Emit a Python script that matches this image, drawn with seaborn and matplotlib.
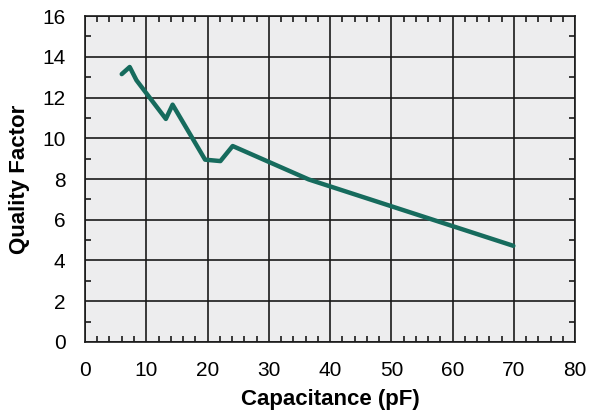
# Quality factor vs capacitance curve
import pandas as pd
import matplotlib
matplotlib.use('Agg')
import matplotlib.pyplot as plt
import seaborn as sns
from matplotlib.ticker import MultipleLocator

# ========= Data =========
capacitance = [6.0, 7.3, 8.4, 13.2, 14.3, 19.6, 22.1, 24.1, 36.5, 69.9]
quality = [13.15, 13.5, 12.85, 10.95, 11.65, 8.95, 8.88, 9.62, 7.98, 4.72]

df = pd.DataFrame({'Capacitance': capacitance, 'Quality': quality})

# ========= Plotting =========
sns.set_style('ticks', {'axes.facecolor': '#ededee'})
plt.rcParams['font.family'] = ['Liberation Sans', 'DejaVu Sans']

fig = plt.figure(figsize=(5.9, 4.12), dpi=100)
ax = fig.add_axes([0.144, 0.170, 0.831, 0.791])

sns.lineplot(data=df, x='Capacitance', y='Quality', color='#166b5d',
             linewidth=3.2, sort=False, ax=ax)

ax.set_xlim(0, 80)
ax.set_ylim(0, 16)
ax.xaxis.set_major_locator(MultipleLocator(10))
ax.xaxis.set_minor_locator(MultipleLocator(2))
ax.yaxis.set_major_locator(MultipleLocator(2))
ax.yaxis.set_minor_locator(MultipleLocator(1))
ax.grid(which='major', color='#1a1a1a', linewidth=1.2)
ax.set_axisbelow(True)
ax.tick_params(which='both', direction='in', top=True, right=True,
               labelsize=15, color='#1a1a1a', labelcolor='black')
ax.tick_params(which='major', length=0)
ax.tick_params(axis='x', which='major', pad=14)
ax.tick_params(axis='y', which='major', pad=14)
ax.tick_params(which='minor', length=4, width=1.2)
for s in ax.spines.values():
    s.set_color('#1a1a1a')
    s.set_linewidth(1.2)

ax.set_xlabel('Capacitance (pF)', fontsize=16, fontweight='bold',
              labelpad=6, color='black')
ax.set_ylabel('Quality Factor', fontsize=16, fontweight='bold',
              labelpad=9, color='black')

fig.savefig('out.png', dpi=100)
